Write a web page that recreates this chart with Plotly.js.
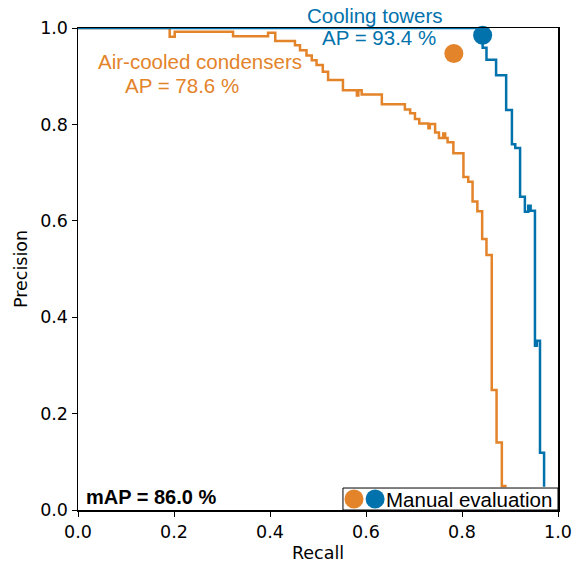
<!DOCTYPE html>
<html>
<head>
<meta charset="utf-8">
<script src="https://cdn.plot.ly/plotly-3.0.1.min.js"></script>
<style>html,body{margin:0;padding:0;background:#fff;}#chart{width:572px;height:565px;}</style>
</head>
<body>
<div id="chart"></div>
<script>
// Precision-recall curves (step)
const acRecall = [0, 0.191, 0.2015, 0.323, 0.396, 0.411, 0.452, 0.4625, 0.476, 0.487, 0.497, 0.510, 0.521, 0.552, 0.581, 0.584, 0.591, 0.633, 0.681, 0.692, 0.702, 0.711, 0.730, 0.733, 0.744, 0.752, 0.761, 0.765, 0.770, 0.782, 0.803, 0.813, 0.822, 0.832, 0.842, 0.851, 0.862, 0.872, 0.883, 0.893];
const acPrecision = [1, 0.982, 0.992, 0.983, 0.990, 0.973, 0.964, 0.954, 0.943, 0.933, 0.923, 0.909, 0.892, 0.871, 0.860, 0.871, 0.862, 0.842, 0.831, 0.823, 0.811, 0.802, 0.792, 0.801, 0.783, 0.772, 0.781, 0.772, 0.763, 0.740, 0.691, 0.681, 0.640, 0.620, 0.562, 0.529, 0.249, 0.140, 0.050, 0.050];
const ctRecall = [0, 0.843, 0.851, 0.871, 0.892, 0.904, 0.911, 0.921, 0.931, 0.938, 0.943, 0.952, 0.956, 0.9625, 0.971];
const ctPrecision = [1, 0.959, 0.934, 0.902, 0.830, 0.759, 0.751, 0.650, 0.619, 0.631, 0.621, 0.341, 0.351, 0.119, 0.048];
// Manual evaluation points
const manualLabels = ['Air-cooled condensers', 'Cooling towers'];
const manualRecall = [0.783, 0.843];
const manualPrecision = [0.947, 0.985];
// Texts
const apText = ['AP = 78.6 %', 'AP = 93.4 %'];
const mapText = 'mAP = 86.0 %';
const legendText = 'Manual evaluation';
const tickVals = [0, 0.2, 0.4, 0.6, 0.8, 1.0];
const tickText = ['0.0', '0.2', '0.4', '0.6', '0.8', '1.0'];

const ORANGE = '#E3832A';
const BLUE = '#0272AC';
const ARIAL = 'Arial, "Liberation Sans", sans-serif';
const DEJAVU = '"DejaVu Sans", sans-serif';

const traces = [
  {x: acRecall, y: acPrecision, mode: 'lines', line: {color: ORANGE, width: 2.5, shape: 'hv'}, showlegend: false, cliponaxis: false},
  {x: ctRecall, y: ctPrecision, mode: 'lines', line: {color: BLUE, width: 2.5, shape: 'hv'}, showlegend: false, cliponaxis: false},
  {x: [manualRecall[0]], y: [manualPrecision[0]], mode: 'markers', marker: {color: ORANGE, size: 19}, showlegend: false, cliponaxis: false},
  {x: [manualRecall[1]], y: [manualPrecision[1]], mode: 'markers', marker: {color: BLUE, size: 19}, showlegend: false, cliponaxis: false}
];

const axisCommon = {
  range: [0, 1], tickvals: tickVals, ticktext: tickText,
  ticks: 'outside', ticklen: 5, tickwidth: 1, tickcolor: '#000',
  showline: true, mirror: true, linecolor: '#000', linewidth: 1.5,
  showgrid: false, zeroline: false,
  tickfont: {family: DEJAVU, size: 17.5, color: '#000'}
};

const layout = {
  width: 572, height: 565,
  margin: {l: 78, r: 14, t: 28, b: 55},
  paper_bgcolor: '#fff', plot_bgcolor: '#fff',
  showlegend: false,
  xaxis: Object.assign({}, axisCommon, {
    title: {text: 'Recall', font: {family: DEJAVU, size: 17.5, color: '#000'}, standoff: 6}
  }),
  yaxis: Object.assign({}, axisCommon, {
    title: {text: 'Precision', font: {family: DEJAVU, size: 17.5, color: '#000'}, standoff: 8}
  }),
  shapes: [
    // legend frame and icons
    {type: 'rect', xref: 'paper', yref: 'paper', x0: 0.552, x1: 1, y0: 0, y1: 0.0456,
     fillcolor: '#fff', line: {color: '#000', width: 1}, layer: 'above'},
    {type: 'circle', xref: 'paper', yref: 'paper', xsizemode: 'pixel', ysizemode: 'pixel',
     xanchor: 0.575, yanchor: 0.0228, x0: -9.5, x1: 9.5, y0: -9.5, y1: 9.5,
     fillcolor: ORANGE, line: {width: 0}, layer: 'above'},
    {type: 'circle', xref: 'paper', yref: 'paper', xsizemode: 'pixel', ysizemode: 'pixel',
     xanchor: 0.619, yanchor: 0.0228, x0: -9.5, x1: 9.5, y0: -9.5, y1: 9.5,
     fillcolor: BLUE, line: {width: 0}, layer: 'above'}
  ],
  annotations: [
    {xref: 'paper', yref: 'paper', x: 0.0375, y: 0.930, xanchor: 'left', yanchor: 'middle', showarrow: false,
     text: manualLabels[0], font: {family: ARIAL, size: 20.5, color: ORANGE}},
    {xref: 'paper', yref: 'paper', x: 0.0931, y: 0.881, xanchor: 'left', yanchor: 'middle', showarrow: false,
     text: apText[0], font: {family: ARIAL, size: 20.5, color: ORANGE}},
    {xref: 'paper', yref: 'paper', x: 0.473, y: 1.025, xanchor: 'left', yanchor: 'middle', showarrow: false,
     text: manualLabels[1], font: {family: ARIAL, size: 20.5, color: BLUE}},
    {xref: 'paper', yref: 'paper', x: 0.505, y: 0.981, xanchor: 'left', yanchor: 'middle', showarrow: false,
     text: apText[1], font: {family: ARIAL, size: 20.5, color: BLUE}},
    {xref: 'paper', yref: 'paper', x: 0.012, y: 0.028, xanchor: 'left', yanchor: 'middle', showarrow: false,
     text: '<b>' + mapText + '</b>', font: {family: ARIAL, size: 20, color: '#000'}},
    {xref: 'paper', yref: 'paper', x: 0.6375, y: 0.0228, xanchor: 'left', yanchor: 'middle', showarrow: false,
     text: legendText, font: {family: ARIAL, size: 20.5, color: '#000'}}
  ]
};

Plotly.newPlot('chart', traces, layout, {displayModeBar: false, staticPlot: true});
</script>
</body>
</html>
